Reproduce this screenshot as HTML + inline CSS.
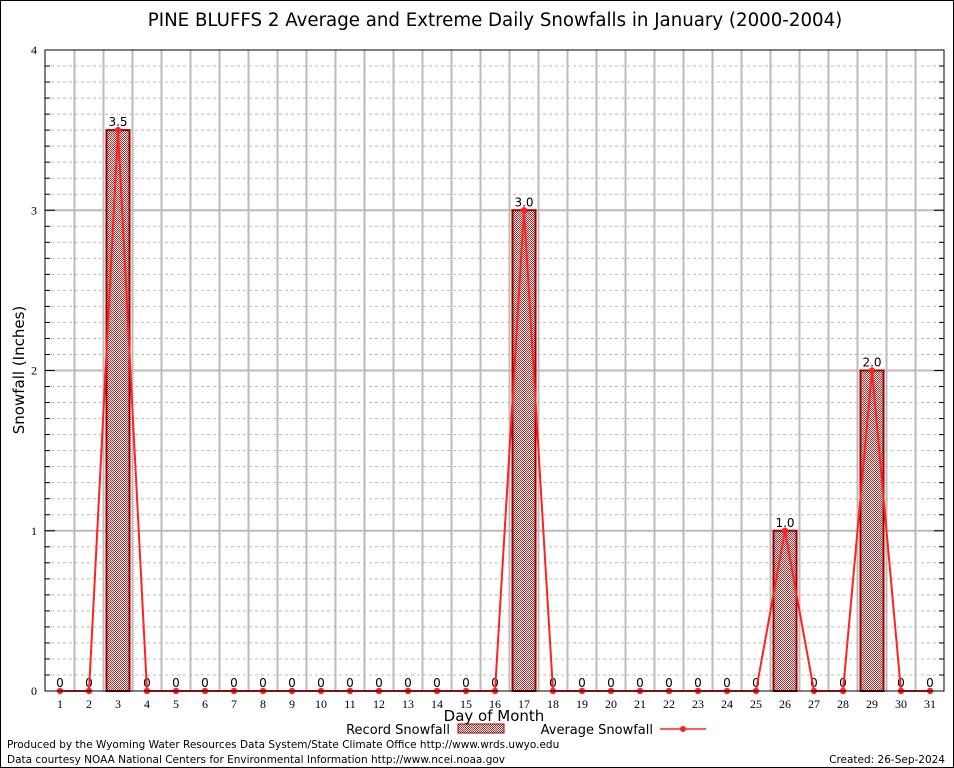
<!DOCTYPE html>
<html><head><meta charset="utf-8"><style>
body{margin:0;background:#fff}
svg{display:block}
</style></head><body>
<svg id="s" width="954" height="768" xmlns="http://www.w3.org/2000/svg"></svg>
<script>
const s=document.getElementById('s');
let h='';
const L=45,R=944,T=50,B=691;
const y=v=>B-v*(B-T)/4;
const x=d=>60+(d-1)*29;
h+='<defs><pattern id="p" width="2" height="2" patternUnits="userSpaceOnUse"><rect width="2" height="2" fill="#fff"/><rect width="1" height="1" fill="#b22"/><rect x="1" y="1" width="1" height="1" fill="#b22"/></pattern></defs>';
h+='<rect x="0.5" y="0.5" width="953" height="767" fill="#fff" stroke="#000"/>';
for(let i=1;i<40;i++){if(i%10==0)continue;h+=`<line x1="${L}" x2="${R}" y1="${y(i/10)}" y2="${y(i/10)}" stroke="#bbb" stroke-dasharray="3,3"/>`;h+=`<line x1="${L}" x2="${L+5}" y1="${y(i/10)}" y2="${y(i/10)}" stroke="#000"/><line x1="${R-5}" x2="${R}" y1="${y(i/10)}" y2="${y(i/10)}" stroke="#000"/>`;}
for(let i=1;i<4;i++){h+=`<line x1="${L}" x2="${R}" y1="${y(i)}" y2="${y(i)}" stroke="#bbb" stroke-width="2"/><line x1="${L}" x2="${L+10}" y1="${y(i)}" y2="${y(i)}" stroke="#000"/><line x1="${R-10}" x2="${R}" y1="${y(i)}" y2="${y(i)}" stroke="#000"/>`;}
for(let d=1;d<31;d++){const xx=x(d)+14.5;h+=`<line x1="${xx}" x2="${xx}" y1="${T}" y2="${B}" stroke="#bbb" stroke-width="2"/>`;}
const vals={3:3.5,17:3.0,26:1.0,29:2.0};
for(const d in vals){const v=vals[d];h+=`<rect x="${x(+d)-11.5}" y="${y(v)}" width="23" height="${B-y(v)}" fill="url(#p)" stroke="#900" stroke-width="2"/>`;h+=`<text x="${x(+d)}" y="${y(v)-4}" font-family="DejaVu Sans,sans-serif" font-size="12" text-anchor="middle">${v.toFixed(1)}</text>`;}
let pts=[];
for(let d=1;d<=31;d++){const v=vals[d]||0;pts.push(x(d)+','+y(v));if(!vals[d])h+=`<text x="${x(d)}" y="${B-4}" font-family="DejaVu Sans,sans-serif" font-size="12" text-anchor="middle">0</text>`;
h+=`<text x="${x(d)}" y="${B+17}" font-family="Liberation Serif,serif" font-size="12" text-anchor="middle">${d}</text>`;}
h+=`<polyline points="${pts.join(' ')}" fill="none" stroke="#f22" stroke-width="2"/>`;
for(let d=1;d<=31;d++){const v=vals[d]||0;h+=`<circle cx="${x(d)}" cy="${y(v)}" r="3.2" fill="#f22"/>`;}
h+=`<rect x="${L}" y="${T}" width="${R-L}" height="${B-T}" fill="none" stroke="#000"/>`;
for(let i=0;i<=4;i++)h+=`<text x="${L-8}" y="${y(i)+4}" font-family="Liberation Serif,serif" font-size="12" text-anchor="end">${i}</text>`;
h+=`<text x="495" y="26" font-family="DejaVu Sans,sans-serif" font-size="18.2" text-anchor="middle">PINE BLUFFS 2 Average and Extreme Daily Snowfalls in January (2000-2004)</text>`;
h+=`<text x="24" y="370" font-family="DejaVu Sans,sans-serif" font-size="15" text-anchor="middle" transform="rotate(-90 24 370)">Snowfall (Inches)</text>`;
h+=`<text x="494" y="721" font-family="DejaVu Sans,sans-serif" font-size="15" text-anchor="middle">Day of Month</text>`;
h+=`<text x="450" y="734" font-family="DejaVu Sans,sans-serif" font-size="13" text-anchor="end">Record Snowfall</text><rect x="458" y="724" width="46" height="9" fill="url(#p)" stroke="#900"/>`;
h+=`<text x="653" y="734" font-family="DejaVu Sans,sans-serif" font-size="13" text-anchor="end">Average Snowfall</text><line x1="660" x2="706" y1="729" y2="729" stroke="#f22" stroke-width="1.5"/><circle cx="683" cy="729" r="3" fill="#f22"/>`;
h+=`<text x="7" y="748" font-family="DejaVu Sans,sans-serif" font-size="10.5">Produced by the Wyoming Water Resources Data System/State Climate Office http://www.wrds.uwyo.edu</text>`;
h+=`<text x="7" y="763" font-family="DejaVu Sans,sans-serif" font-size="10.5">Data courtesy NOAA National Centers for Environmental Information http://www.ncei.noaa.gov</text>`;
h+=`<text x="945" y="763" font-family="DejaVu Sans,sans-serif" font-size="10.5" text-anchor="end">Created:  26-Sep-2024</text>`;
s.innerHTML=h;
</script>
</body></html>
